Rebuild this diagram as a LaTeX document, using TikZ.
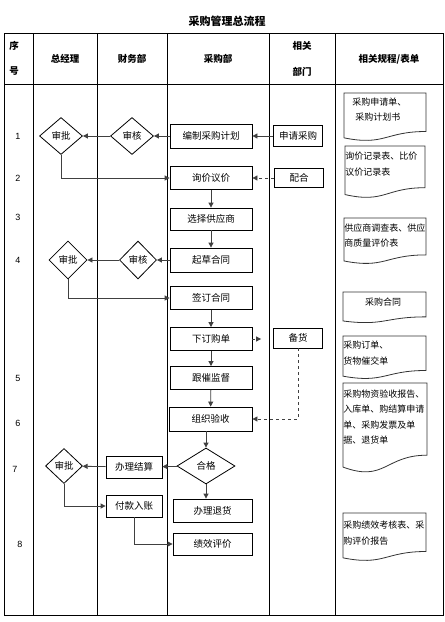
\documentclass[tikz,border=0pt]{standalone}
\usepackage{fontspec}
\setmainfont{Noto Sans CJK SC}
\newfontfamily\numfont{Liberation Sans}
\usetikzlibrary{shapes.geometric, arrows.meta}

% document outline with wavy bottom: left x, top y, right x, height
\newcommand{\docshape}[4]{%
  \draw[docline] (#1,#2) -- (#3,#2) -- (#3,{#2+0.802*#4})
    .. controls ({(#1+#3)/2},{#2+0.802*#4}) and ({(#1+#3)/2},{#2+1.107*#4}) .. (#1,{#2+0.934*#4}) -- cycle;}

\tikzset{
  box/.style={draw, rectangle, minimum width=82pt, minimum height=24pt, inner sep=0pt, font=\fontsize{9.5}{11}\selectfont},
  smallbox/.style={box, minimum width=49pt, minimum height=21pt},
  decide/.style={draw, diamond, minimum width=43pt, minimum height=37pt, inner sep=0pt, font=\fontsize{9.5}{11}\selectfont},
  flow/.style={draw=black!75, -{Triangle[length=5pt, width=5pt]}},
  dflow/.style={flow, dashed},
  docline/.style={draw=black!80},
  doctext/.style={anchor=west, align=left, inner sep=0pt, font=\fontsize{9}{15.5}\selectfont},
  head/.style={font=\bfseries\fontsize{9.5}{11}\selectfont},
  num/.style={font=\numfont\fontsize{9}{11}\selectfont},
}

\begin{document}
\begin{tikzpicture}[x=1pt, y=-1pt, line width=0.8pt]
    \useasboundingbox (0,0) rectangle (445,622);

    % table frame and lanes
    \draw (4,33) rectangle (443,615);
    \draw (4,84) -- (443,84);
    \foreach \lx in {33,97,167,269,335}
        \draw (\lx,33) -- (\lx,615);

    \node[font=\bfseries\fontsize{11}{13}\selectfont] (title) at (227,21) {采购管理总流程};

    % header
    \node[head] (hseq1) at (14,46) {序};
    \node[head] (hseq2) at (14,71) {号};
    \node[head] (hgm) at (65,59) {总经理};
    \node[head] (hfin) at (132,59) {财务部};
    \node[head] (hbuy) at (218,59) {采购部};
    \node[head] (hrel1) at (302,46) {相关};
    \node[head] (hrel2) at (302,72) {部门};
    \node[head] (hdoc) at (389,59) {相关规程/表单};

    % row numbers
    \foreach \n/\nx/\ny in {1/18/136, 2/18/178, 3/18/217, 4/18/260, 5/18/378, 6/18/423, 7/15/469, 8/20/544}
        \node[num] (row\n) at (\nx,\ny) {\n};

    % steps
    \node[decide] (approve1) at (61,136) {审批};
    \node[decide] (check1) at (132,136) {审核};
    \node[box] (plan) at (211,136) {编制采购计划};
    \node[smallbox] (apply) at (298,136) {申请采购};
    \node[box, minimum height=23pt] (inquiry) at (211,178) {询价议价};
    \node[smallbox, minimum height=19pt] (coop) at (299,178) {配合};
    \node[box, minimum height=22pt] (select) at (211,219) {选择供应商};
    \node[box] (draft) at (211,260) {起草合同};
    \node[decide, minimum width=38pt, minimum height=38pt] (approve4) at (68,260) {审批};
    \node[decide, minimum width=37pt, minimum height=38pt] (check4) at (138,260) {审核};
    \node[box, minimum height=23pt] (sign) at (211,298) {签订合同};
    \node[box, minimum height=23pt] (order) at (211,339) {下订购单};
    \node[smallbox, minimum height=20pt] (stock) at (298,338) {备货};
    \node[box, minimum height=23pt] (follow) at (211,378) {跟催监督};
    \node[box, minimum width=83pt] (accept) at (210.5,419) {组织验收};
    \node[decide, minimum width=58pt, minimum height=36pt] (qualify) at (206,466) {合格};
    \node[box, minimum width=56pt, minimum height=22pt] (settle) at (134,467) {办理结算};
    \node[decide, minimum width=37pt, minimum height=35pt] (approve7) at (64,466) {审批};
    \node[box, minimum width=56pt, minimum height=22pt] (pay) at (134,506) {付款入账};
    \node[box, minimum width=79pt, minimum height=23pt] (refund) at (212.5,510.5) {办理退货};
    \node[box, minimum width=79pt, minimum height=22pt] (eval) at (212.5,544) {绩效评价};

    % connectors
    \draw[flow] (apply) -- (plan);
    \draw[flow] (plan) -- (check1);
    \draw[flow] (check1) -- (approve1);
    \draw[flow] (approve1.south) |- (inquiry.west);
    \draw[dflow] (coop) -- (inquiry);
    \draw[flow] (inquiry) -- (select);
    \draw[flow] (select) -- (draft);
    \draw[flow] (draft) -- (check4);
    \draw[flow] (check4) -- (approve4);
    \draw[flow] (approve4.south) |- (sign.west);
    \draw[flow] (sign) -- (order);
    \draw[dflow, shorten >=12pt] (order.east) -- (order.east -| stock.west);
    \draw[flow] (order) -- (follow);
    \draw[flow] (follow) -- (accept);
    \draw[dflow] (stock.south) |- (accept.east);
    \draw[flow] (qualify.north |- accept.south) -- (qualify.north);
    \draw[flow] (qualify) -- (settle);
    \draw[flow] (settle) -- (approve7);
    \draw[flow] (approve7.south) |- (pay.west);
    \draw[flow] (qualify.south) -- (qualify.south |- refund.north);
    \draw[flow] (pay.south) |- (eval.west);

    % related documents
    \docshape{344}{93}{426}{48}
    \node[doctext] (doc1) at (352,109.5) {采购申请单、\\\hspace{3pt}采购计划书};
    \docshape{345}{146}{425}{52}
    \node[doctext] (doc2) at (345,164) {询价记录表、比价\\议价记录表};
    \docshape{344}{218}{426}{46}
    \node[doctext] (doc3) at (344,235.5) {供应商调查表、供应\\商质量评价表};
    \docshape{343}{292}{426}{31}
    \node[doctext, anchor=center] (doc4) at (383,302) {采购合同};
    \docshape{343}{336}{426}{43}
    \node[doctext] (doc5) at (343,353) {采购订单、\\货物催交单};
    \docshape{343}{383}{427}{90}
    \node[doctext] (doc6) at (343,417) {采购物资验收报告、\\入库单、购结算申请\\单、采购发票及单\\据、退货单};
    \docshape{343}{513}{426}{48}
    \node[doctext] (doc7) at (343,533) {采购绩效考核表、采\\购评价报告};
\end{tikzpicture}
\end{document}
